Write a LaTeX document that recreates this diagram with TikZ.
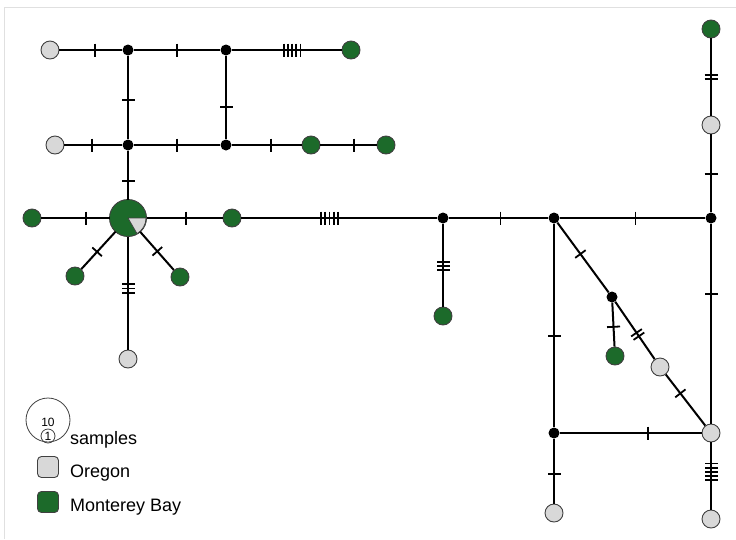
\documentclass[tikz,border=0pt]{standalone}
\usepackage{fontspec}
\setmainfont{Liberation Sans}
\definecolor{mbay}{RGB}{28,106,42}
\definecolor{oreg}{RGB}{216,216,216}
\begin{document}
\begin{tikzpicture}[x=1pt, y=-1pt, line join=round, font=\fontsize{18}{21}\selectfont]
	\useasboundingbox (0,0) rectangle (736,539);
	\draw[black!12, line width=1pt] (736,7)--(4,7)--(4,539);
	\tikzset{
		hap/.style={circle, draw=black!75, line width=.9pt, minimum size=18pt, inner sep=0pt},
		ore/.style={hap, fill=oreg},
		mb/.style={hap, fill=mbay},
		med/.style={circle, fill=black, minimum size=11pt, inner sep=0pt},
		lnk/.style={line width=2pt},
		mut/.pic={\foreach \k in {1,...,#1} \draw[line width=1.8pt] ({(\k-(#1+1)/2)*4.2},-6.5)--++(0,13);}
	}
	\foreach \n/\x/\y in {o1/50/50, o2/55/145, o3/128/359, o4/711/125, o5/660/367, o6/711/433, o7/554/513, o8/711/519}
		\node[ore] (\n) at (\x,\y) {};
	\foreach \n/\x/\y in {m1/351/50, m2/311/145, m3/386/145, m4/32/218, m5/232/218, m6/75/276, m7/180/277, m8/443/316, m9/711/29, m10/615/356}
		\node[mb] (\n) at (\x,\y) {};
	\foreach \n/\x/\y in {v1/128/50, v2/226/50, v3/128/145, v4/226/145, v5/443/218, v6/554/218, v7/711/218, v8/612/297, v9/554/433}
		\node[med] (\n) at (\x,\y) {};
	\node[circle, fill=mbay, draw=black!75, line width=.9pt, minimum size=37pt, inner sep=0pt, outer sep=0pt] (hub) at (128,218) {};
	\fill[oreg, draw=black!75, line width=.7pt] (hub.center) -- ++(18,0) arc[start angle=0, end angle=60, radius=18] -- cycle;
	\foreach \a/\b/\p/\m in {o1/v1/.56/1, v1/v2/.5/1, v2/m1/.55/5, o2/v3/.48/1, v3/v4/.5/1, v4/m2/.56/1, m2/m3/.6/1,
			v1/v3/.53/1, v2/v4/.61/1, v3/hub/.62/1, m4/hub/.65/1, hub/m5/.52/1, hub/m6/.54/1, hub/m7/.51/1, hub/o3/.46/3,
			m5/v5/.45/5, v5/m8/.51/3, v5/v6/.52/1, v6/v7/.52/1, v7/o4/.49/1, o4/m9/.5/2, v6/v8/.45/1, v8/m10/.55/1,
			v8/o5/.57/2, o5/o6/.37/1, v7/o6/.35/1, v6/v9/.55/1, v9/o6/.62/1, v9/o7/.55/1, o6/o8/.44/5}
		\draw[lnk] (\a) -- pic[pos=\p, sloped]{mut=\m} (\b);
	\node[circle, draw=black!75, line width=.8pt, minimum size=44pt] (kbig) at (48,420) {};
	\node[circle, draw=black!75, line width=.8pt, minimum size=14pt, inner sep=0pt, font=\fontsize{12}{14}\selectfont] (ksmall) at (48,436) {1};
	\node[font=\fontsize{12}{14}\selectfont] (kten) at (48,422) {10};
	\node[anchor=base west, inner sep=0pt] (lsam) at (70,444) {samples};
	\node[ore, rectangle, rounded corners=4pt, minimum size=21pt] (kore) at (48,467) {};
	\node[anchor=base west, inner sep=0pt] (lore) at (70,477) {Oregon};
	\node[mb, rectangle, rounded corners=4pt, minimum size=21pt] (kmb) at (48,502) {};
	\node[anchor=base west, inner sep=0pt] (lmb) at (70,511) {Monterey Bay};
\end{tikzpicture}
\end{document}
